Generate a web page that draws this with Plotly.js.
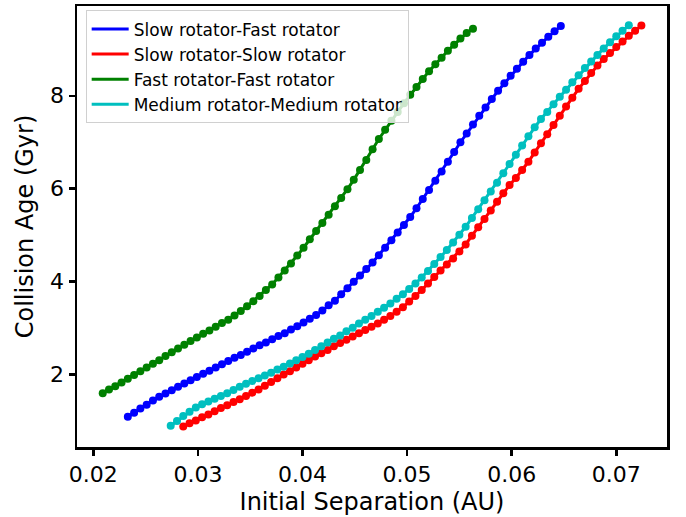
<!DOCTYPE html>
<html>
<head>
<meta charset="utf-8">
<script src="https://cdn.plot.ly/plotly-3.0.1.min.js"></script>
<style>
  html, body { margin: 0; padding: 0; background: #ffffff; }
  #chart { width: 686px; height: 517px; }
</style>
</head>
<body>
<div id="chart"></div>
<script>
// Series names (legend order)
const seriesNames = [
  "Slow rotator-Fast rotator",
  "Slow rotator-Slow rotator",
  "Fast rotator-Fast rotator",
  "Medium rotator-Medium rotator"
];
const seriesColors = ["#0000ff", "#ff0000", "#008000", "#00bfbf"];

// Slow rotator-Fast rotator (blue): initial separation (AU) and collision age (Gyr)
const slowFastX = [0.0233,0.0239,0.0245,0.0251,0.0257,0.0263,0.0269,0.0275,0.0281,0.0287,
  0.0293,0.0299,0.0305,0.0311,0.0317,0.0323,0.0329,0.0335,0.0341,0.0347,
  0.0353,0.0359,0.0365,0.0371,0.0377,0.0383,0.0389,0.0395,0.0401,0.0407,
  0.0413,0.0419,0.0425,0.0431,0.0437,0.0443,0.0449,0.0455,0.0461,0.0467,
  0.0473,0.0479,0.0485,0.0491,0.0497,0.0503,0.0509,0.0515,0.0521,0.0527,
  0.0533,0.0539,0.0545,0.0551,0.0557,0.0563,0.0569,0.0575,0.0581,0.0587,
  0.0593,0.0599,0.0605,0.0611,0.0617,0.0623,0.0629,0.0635,0.0641,0.0647];
const slowFastY = [1.09,1.18,1.27,1.35,1.44,1.52,1.59,1.66,1.74,1.81,
  1.88,1.95,2.02,2.08,2.15,2.22,2.29,2.36,2.42,2.49,
  2.56,2.63,2.69,2.76,2.83,2.89,2.97,3.04,3.12,3.20,
  3.28,3.38,3.49,3.59,3.73,3.86,4.00,4.13,4.27,4.41,
  4.57,4.73,4.89,5.06,5.22,5.39,5.58,5.78,5.97,6.17,
  6.37,6.58,6.79,7.00,7.19,7.38,7.57,7.75,7.93,8.11,
  8.27,8.43,8.58,8.73,8.88,9.02,9.14,9.27,9.39,9.50];

// Slow rotator-Slow rotator (red)
const slowSlowX = [0.0286,0.0292,0.0298,0.0304,0.0310,0.0316,0.0322,0.0328,0.0334,0.0340,
  0.0346,0.0352,0.0358,0.0364,0.0370,0.0376,0.0382,0.0388,0.0394,0.0400,
  0.0406,0.0412,0.0418,0.0424,0.0430,0.0436,0.0442,0.0448,0.0454,0.0460,
  0.0466,0.0472,0.0478,0.0484,0.0490,0.0496,0.0502,0.0508,0.0514,0.0520,
  0.0526,0.0532,0.0538,0.0544,0.0550,0.0556,0.0562,0.0568,0.0574,0.0580,
  0.0586,0.0592,0.0598,0.0604,0.0610,0.0616,0.0622,0.0628,0.0634,0.0640,
  0.0646,0.0652,0.0658,0.0664,0.0670,0.0676,0.0682,0.0688,0.0694,0.0700,
  0.0706,0.0712,0.0718,0.0724];
const slowSlowY = [0.88,0.95,1.01,1.08,1.14,1.21,1.28,1.34,1.41,1.47,
  1.54,1.61,1.68,1.76,1.84,1.92,2.00,2.07,2.15,2.23,
  2.31,2.39,2.46,2.53,2.61,2.68,2.75,2.82,2.89,2.96,
  3.03,3.10,3.18,3.26,3.35,3.45,3.57,3.69,3.82,3.96,
  4.10,4.24,4.37,4.50,4.65,4.80,4.99,5.17,5.35,5.53,
  5.72,5.90,6.08,6.23,6.40,6.58,6.78,6.98,7.17,7.37,
  7.57,7.77,7.96,8.15,8.32,8.49,8.65,8.79,8.92,9.05,
  9.17,9.29,9.40,9.51];

// Fast rotator-Fast rotator (green)
const fastFastX = [0.0209,0.0215,0.0221,0.0227,0.0233,0.0239,0.0245,0.0251,0.0257,0.0263,
  0.0269,0.0275,0.0281,0.0287,0.0293,0.0299,0.0305,0.0311,0.0317,0.0323,
  0.0329,0.0335,0.0341,0.0347,0.0353,0.0359,0.0365,0.0371,0.0377,0.0383,
  0.0389,0.0395,0.0401,0.0407,0.0413,0.0419,0.0425,0.0431,0.0437,0.0443,
  0.0449,0.0455,0.0461,0.0467,0.0473,0.0479,0.0485,0.0491,0.0497,0.0503,
  0.0509,0.0515,0.0521,0.0527,0.0533,0.0539,0.0545,0.0551,0.0557,0.0563];
const fastFastY = [1.60,1.68,1.75,1.83,1.91,1.99,2.07,2.15,2.23,2.31,
  2.40,2.48,2.56,2.64,2.72,2.80,2.88,2.95,3.03,3.11,
  3.18,3.27,3.37,3.47,3.58,3.69,3.82,3.94,4.09,4.24,
  4.39,4.56,4.73,4.91,5.09,5.26,5.44,5.62,5.80,5.99,
  6.19,6.40,6.62,6.85,7.07,7.27,7.46,7.65,7.84,8.02,
  8.19,8.36,8.53,8.68,8.82,8.97,9.10,9.23,9.35,9.44];

// Medium rotator-Medium rotator (cyan)
const medMedX = [0.0274,0.0280,0.0286,0.0292,0.0298,0.0304,0.0310,0.0316,0.0322,0.0328,
  0.0334,0.0340,0.0346,0.0352,0.0358,0.0364,0.0370,0.0376,0.0382,0.0388,
  0.0394,0.0400,0.0406,0.0412,0.0418,0.0424,0.0430,0.0436,0.0442,0.0448,
  0.0454,0.0460,0.0466,0.0472,0.0478,0.0484,0.0490,0.0496,0.0502,0.0508,
  0.0514,0.0520,0.0526,0.0532,0.0538,0.0544,0.0550,0.0556,0.0562,0.0568,
  0.0574,0.0580,0.0586,0.0592,0.0598,0.0604,0.0610,0.0616,0.0622,0.0628,
  0.0634,0.0640,0.0646,0.0652,0.0658,0.0664,0.0670,0.0676,0.0682,0.0688,
  0.0694,0.0700,0.0706,0.0712];
const medMedY = [0.90,1.00,1.11,1.20,1.29,1.36,1.42,1.48,1.54,1.60,
  1.67,1.74,1.80,1.86,1.92,1.98,2.04,2.11,2.17,2.24,
  2.31,2.38,2.45,2.53,2.61,2.69,2.77,2.84,2.93,3.01,
  3.10,3.18,3.26,3.35,3.44,3.53,3.63,3.73,3.84,3.96,
  4.09,4.23,4.38,4.53,4.68,4.84,5.01,5.18,5.37,5.56,
  5.75,5.94,6.13,6.33,6.53,6.73,6.93,7.13,7.32,7.50,
  7.65,7.82,7.98,8.13,8.29,8.44,8.60,8.74,8.88,9.02,
  9.15,9.28,9.40,9.52];

// Axis ticks
const xTickVals = [0.02, 0.03, 0.04, 0.05, 0.06, 0.07];
const xTickText = ["0.02", "0.03", "0.04", "0.05", "0.06", "0.07"];
const yTickVals = [2, 4, 6, 8];
const yTickText = ["2", "4", "6", "8"];

const allX = [slowFastX, slowSlowX, fastFastX, medMedX];
const allY = [slowFastY, slowSlowY, fastFastY, medMedY];

const traces = [];
for (let i = 0; i < 4; i++) {
  traces.push({
    x: allX[i], y: allY[i], type: "scatter", mode: "lines",
    name: seriesNames[i], legendgroup: "g" + i, showlegend: true,
    line: { color: seriesColors[i], width: 3 },
    hoverinfo: "skip"
  });
  traces.push({
    x: allX[i], y: allY[i], type: "scatter", mode: "markers",
    name: seriesNames[i], legendgroup: "g" + i, showlegend: false,
    marker: { color: seriesColors[i], size: 8, line: { width: 0 } }
  });
}

const font = "DejaVu Sans, Liberation Sans, sans-serif";
const layout = {
  width: 686, height: 517,
  margin: { l: 77, r: 19, t: 6, b: 70 },
  paper_bgcolor: "#ffffff", plot_bgcolor: "#ffffff",
  font: { family: font, color: "#000000" },
  showlegend: true,
  legend: {
    x: 0.0147, y: 0.99, xanchor: "left", yanchor: "top",
    bgcolor: "rgba(255,255,255,0.8)", bordercolor: "#d0d0d0", borderwidth: 1,
    font: { family: font, size: 17, color: "#000000" },
    traceorder: "normal", itemwidth: 37
  },
  xaxis: {
    range: [0.01844, 0.07485],
    tickvals: xTickVals, ticktext: xTickText,
    ticks: "outside", ticklen: 6, tickwidth: 2.5, tickcolor: "#000000",
    showline: true, linewidth: 2.5, linecolor: "#000000", mirror: true,
    showgrid: false, zeroline: false,
    tickfont: { family: font, size: 22, color: "#000000" },
    title: { text: "Initial Separation (AU)", font: { family: font, size: 24, color: "#000000" }, standoff: 8 },
    automargin: false
  },
  yaxis: {
    range: [0.441, 9.932],
    tickvals: yTickVals, ticktext: yTickText,
    ticks: "outside", ticklen: 6, tickwidth: 2.5, tickcolor: "#000000",
    showline: true, linewidth: 2.5, linecolor: "#000000", mirror: true,
    showgrid: false, zeroline: false,
    tickfont: { family: font, size: 22, color: "#000000" },
    title: { text: "Collision Age (Gyr)", font: { family: font, size: 24, color: "#000000" }, standoff: 10 },
    automargin: false
  }
};

Plotly.newPlot("chart", traces, layout, { displayModeBar: false, staticPlot: true });
</script>
</body>
</html>
